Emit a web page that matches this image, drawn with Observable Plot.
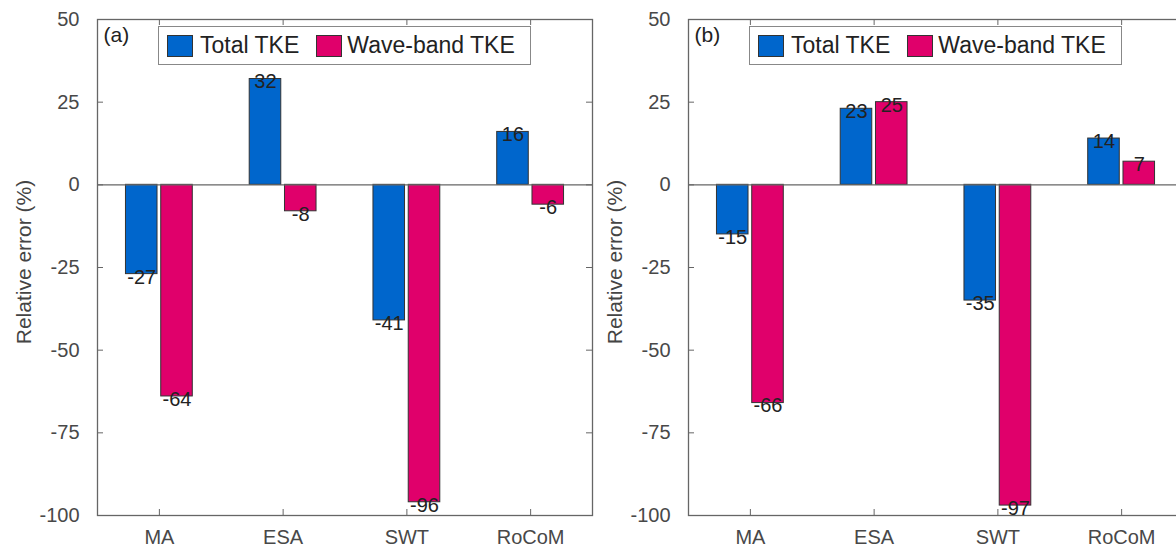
<!DOCTYPE html>
<html><head><meta charset="utf-8">
<script src="https://cdn.jsdelivr.net/npm/d3@7"></script>
<script src="https://cdn.jsdelivr.net/npm/@observablehq/plot@0.6"></script>
<style>
html,body{margin:0;padding:0;background:#fff;}
#wrap{position:relative;width:1176px;height:549px;overflow:hidden;font-family:"Liberation Sans",Arial,sans-serif;}
.panel{position:absolute;top:0;}
.ylab{position:absolute;font-size:21px;color:#444;white-space:nowrap;transform:translate(-50%,-50%) rotate(-90deg);}
.legend{position:absolute;top:26px;width:373px;height:39px;box-sizing:border-box;border:1px solid #888;background:#fff;display:flex;align-items:center;font-size:23px;color:#222;padding-left:8px;}
.sw{width:26px;height:22px;box-sizing:border-box;border:1px solid #333;flex:none;}
</style></head><body><div id="wrap"></div>
<script>
const methods = ["MA", "ESA", "SWT", "RoCoM"];
const seriesNames = ["Total TKE", "Wave-band TKE"];
const seriesColors = ["#0066CC", "#E0006B"];
const totalA = [-27, 32, -41, 16];
const waveA = [-64, -8, -96, -6];
const totalB = [-15, 23, -35, 14];
const waveB = [-66, 25, -97, 7];
const yTicks = [-100, -75, -50, -25, 0, 25, 50];
const panelLetters = ["(a)", "(b)"];
const yLabel = "Relative error (%)";

const W = 602, H = 549, ML = 97, MR = 10, MT = 19, MB = 34;
const FW = W - ML - MR, FH = H - MT - MB;
const wrap = document.getElementById("wrap");

function panel(left, letter, total, wave) {
  const rows = methods.flatMap((m, k) => [
    {m, i: k + 1, s: seriesNames[0], v: total[k], side: -1},
    {m, i: k + 1, s: seriesNames[1], v: wave[k], side: 1}
  ]);
  const idx = methods.map((m, k) => k + 1);
  const axisColor = "#666";
  const chart = Plot.plot({
    width: W, height: H, marginLeft: ML, marginRight: MR, marginTop: MT, marginBottom: MB,
    x: {type: "linear", domain: [0.5, 4.5]},
    y: {domain: [-100, 50]},
    color: {domain: seriesNames, range: seriesColors},
    style: {fontFamily: "'Liberation Sans', Arial, sans-serif", color: "#484848", background: "transparent", overflow: "visible"},
    marks: [
      Plot.rect(rows, {
        x1: d => d.i + (d.side < 0 ? -0.27 : 0.015),
        x2: d => d.i + (d.side < 0 ? -0.015 : 0.27),
        y1: () => 0, y2: "v", fill: "s", stroke: "#333", strokeWidth: 1
      }),
      Plot.ruleY([0], {stroke: "#666", strokeWidth: 1.3}),
      Plot.tickY(yTicks, {y: d => d, stroke: axisColor, insetRight: FW - 6}),
      Plot.tickY(yTicks, {y: d => d, stroke: axisColor, insetLeft: FW - 6}),
      Plot.tickX(idx, {x: d => d, stroke: axisColor, insetBottom: FH - 6}),
      Plot.tickX(idx, {x: d => d, stroke: axisColor, insetTop: FH - 6}),
      Plot.frame({stroke: axisColor, strokeWidth: 1.3}),
      Plot.axisY(yTicks, {tickSize: 0, tickPadding: 18, fontSize: 20, tickFormat: d => String(d), label: null}),
      Plot.axisX(idx, {tickSize: 0, tickPadding: 14, fontSize: 20, tickFormat: d => methods[d - 1], label: null}),
      Plot.text(rows, {
        x: d => d.i + d.side * 0.1425, y: "v", text: d => String(d.v),
        fontSize: 20, fill: "#222", lineAnchor: "middle", dy: 3
      }),
      Plot.text([letter], {frameAnchor: "top-left", text: d => d, dx: 6, dy: 8, lineAnchor: "top", textAnchor: "start", fontSize: 21, fill: "#222"})
    ]
  });
  chart.classList.add("panel");
  chart.style.left = left + "px";
  wrap.appendChild(chart);

  const yl = document.createElement("div");
  yl.className = "ylab";
  yl.textContent = yLabel;
  yl.style.left = (left + 24) + "px";
  yl.style.top = "262px";
  wrap.appendChild(yl);

  const lg = document.createElement("div");
  lg.className = "legend";
  lg.style.left = (left + ML + 61) + "px";
  seriesNames.forEach((name, k) => {
    const sw = document.createElement("div");
    sw.className = "sw";
    sw.style.background = seriesColors[k];
    if (k > 0) sw.style.marginLeft = "17px";
    lg.appendChild(sw);
    const t = document.createElement("span");
    t.textContent = name;
    t.style.marginLeft = k === 0 ? "7px" : "5px";
    lg.appendChild(t);
  });
  wrap.appendChild(lg);
}

panel(0, panelLetters[0], totalA, waveA);
panel(591, panelLetters[1], totalB, waveB);
</script></body></html>
